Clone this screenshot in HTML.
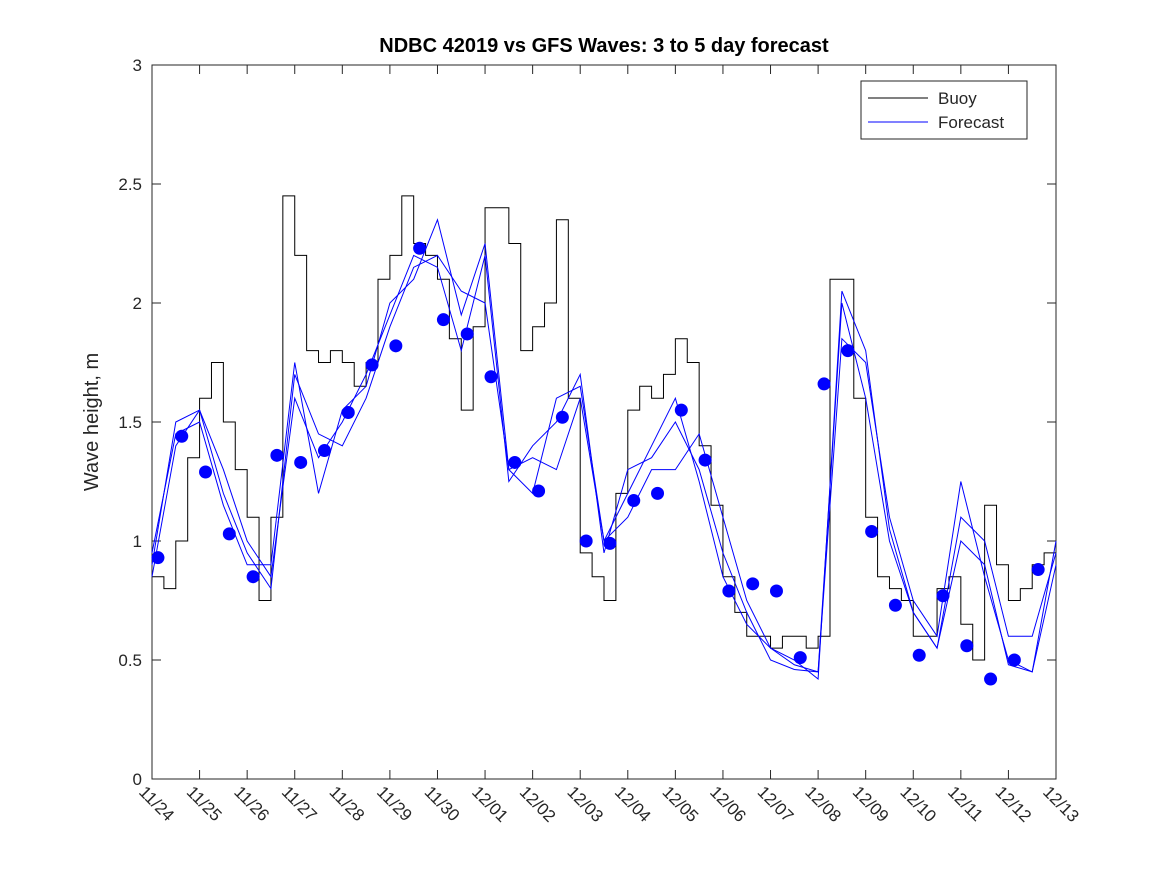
<!DOCTYPE html>
<html><head><meta charset="utf-8"><style>
body{margin:0;background:#fff;}
svg text{font-family:"Liberation Sans",sans-serif;}
</style></head><body>
<svg id="chart" width="1167" height="875" xmlns="http://www.w3.org/2000/svg">
<rect width="1167" height="875" fill="#fff"/>
<text x="604" y="52" text-anchor="middle" font-size="20" font-weight="bold">NDBC 42019 vs GFS Waves: 3 to 5 day forecast</text>
<rect x="152" y="65" width="904" height="714" fill="#fff" stroke="#262626"/>
<g id="axes"></g>
<g id="series"></g>
<text transform="translate(98,422) rotate(-90)" text-anchor="middle" font-size="20" fill="#262626">Wave height, m</text>
<g>
<rect x="861" y="81" width="166" height="58" fill="#fff" stroke="#262626"/>
<line x1="868" y1="98" x2="928" y2="98" stroke="#000"/>
<text x="938" y="104" font-size="17" fill="#262626">Buoy</text>
<line x1="868" y1="122" x2="928" y2="122" stroke="#00f"/>
<text x="938" y="128" font-size="17" fill="#262626">Forecast</text>
</g>
</svg>
<script>
const xTickLabels=["11/24","11/25","11/26","11/27","11/28","11/29","11/30","12/01","12/02","12/03","12/04","12/05","12/06","12/07","12/08","12/09","12/10","12/11","12/12","12/13"];
const yTicks=[0,0.5,1,1.5,2,2.5,3];
const yTickLabels=["0","0.5","1","1.5","2","2.5","3"];
const buoy=[0.85,0.8,1.0,1.35,1.6,1.75,1.5,1.3,1.1,0.75,1.1,2.45,2.2,1.8,1.75,1.8,1.75,1.65,1.75,2.1,2.2,2.45,2.25,2.2,2.1,1.85,1.55,1.9,2.4,2.4,2.25,1.8,1.9,2.0,2.35,1.6,0.95,0.85,0.75,1.2,1.55,1.65,1.6,1.7,1.85,1.75,1.4,1.15,0.85,0.7,0.6,0.6,0.55,0.6,0.6,0.55,0.6,2.1,2.1,1.6,1.1,0.85,0.8,0.75,0.6,0.6,0.8,0.85,0.65,0.5,1.15,0.9,0.75,0.8,0.9,0.95,0.95];
const fc1=[0.9,1.5,1.55,1.2,0.95,0.8,1.7,1.45,1.4,1.6,1.9,2.15,2.2,2.05,2.0,1.3,1.35,1.3,1.6,1.0,1.1,1.3,1.3,1.45,1.1,0.75,0.55,0.48,0.45,2.0,1.6,1.0,0.7,0.55,1.1,1.0,0.6,0.6,0.95];
const fc2=[0.85,1.4,1.55,1.3,1.0,0.85,1.6,1.35,1.5,1.7,1.95,2.2,2.15,1.8,2.2,1.25,1.4,1.5,1.7,0.95,1.3,1.35,1.5,1.3,0.95,0.7,0.5,0.46,0.45,1.85,1.75,1.1,0.75,0.6,1.25,0.85,0.5,0.45,1.0];
const fc3=[0.95,1.45,1.5,1.15,0.9,0.9,1.75,1.2,1.55,1.65,2.0,2.1,2.35,1.95,2.25,1.3,1.2,1.6,1.65,1.0,1.2,1.4,1.6,1.25,0.85,0.65,0.55,0.5,0.42,2.05,1.8,1.05,0.7,0.55,1.0,0.9,0.48,0.45,0.9];
const dots=[0.93,1.44,1.29,1.03,0.85,1.36,1.33,1.38,1.54,1.74,1.82,2.23,1.93,1.87,1.69,1.33,1.21,1.52,1.00,0.99,1.17,1.20,1.55,1.34,0.79,0.82,0.79,0.51,1.66,1.80,1.04,0.73,0.52,0.77,0.56,0.42,0.50,0.88];
const NS="http://www.w3.org/2000/svg";
const X0=152,X1=1056,Y0=779,Y1=65,DAYS=19,YMAX=3;
function xs(d){return X0+(X1-X0)*d/DAYS;}
function ys(v){return Y0-(Y0-Y1)*v/YMAX;}
function mk(tag,attrs,parent){const e=document.createElementNS(NS,tag);for(const k in attrs)e.setAttribute(k,attrs[k]);parent.appendChild(e);return e;}
const axes=document.getElementById('axes'),ser=document.getElementById('series');
xTickLabels.forEach((l,i)=>{const x=xs(i);
 const t1=mk('line',{x1:x,y1:Y0,x2:x,y2:Y0-9,stroke:'#262626'},axes);
 
 
 mk('line',{x1:x,y1:Y1,x2:x,y2:Y1+9,stroke:'#262626'},axes);
 const t=mk('text',{x:x-14,y:Y0+14,'font-size':17,fill:'#262626',transform:`rotate(45 ${x-14} ${Y0+14})`},axes);
 t.textContent=l;
 
 
});
yTicks.forEach((v,i)=>{const y=ys(v);
 mk('line',{x1:X0,y1:y,x2:X0+9,y2:y,stroke:'#262626'},axes);
 mk('line',{x1:X1,y1:y,x2:X1-9,y2:y,stroke:'#262626'},axes);
 const t=mk('text',{x:X0-10,y:y+6,'font-size':17,fill:'#262626','text-anchor':'end'},axes);
 t.textContent=yTickLabels[i];
 
 
});
// buoy step line
let d='';buoy.forEach((v,i)=>{const x=xs(i*0.25),y=ys(v);if(i===0)d+=`M${x},${y}`;else d+=`H${x}V${y}`;});
const bp=mk('path',{d:d,fill:'none',stroke:'#000','stroke-width':1},ser);


[fc1,fc2,fc3].forEach((arr,k)=>{
 const p=mk('polyline',{points:arr.map((v,i)=>xs(i*0.5)+','+ys(v)).join(' '),fill:'none',stroke:'#00f','stroke-width':1},ser);
 
 
});
dots.forEach((v,i)=>{
 const c=mk('circle',{cx:xs(0.125+0.5*i),cy:ys(v),r:6.5,fill:'#00f'},ser);
 
 
});
</script>
</body></html>
